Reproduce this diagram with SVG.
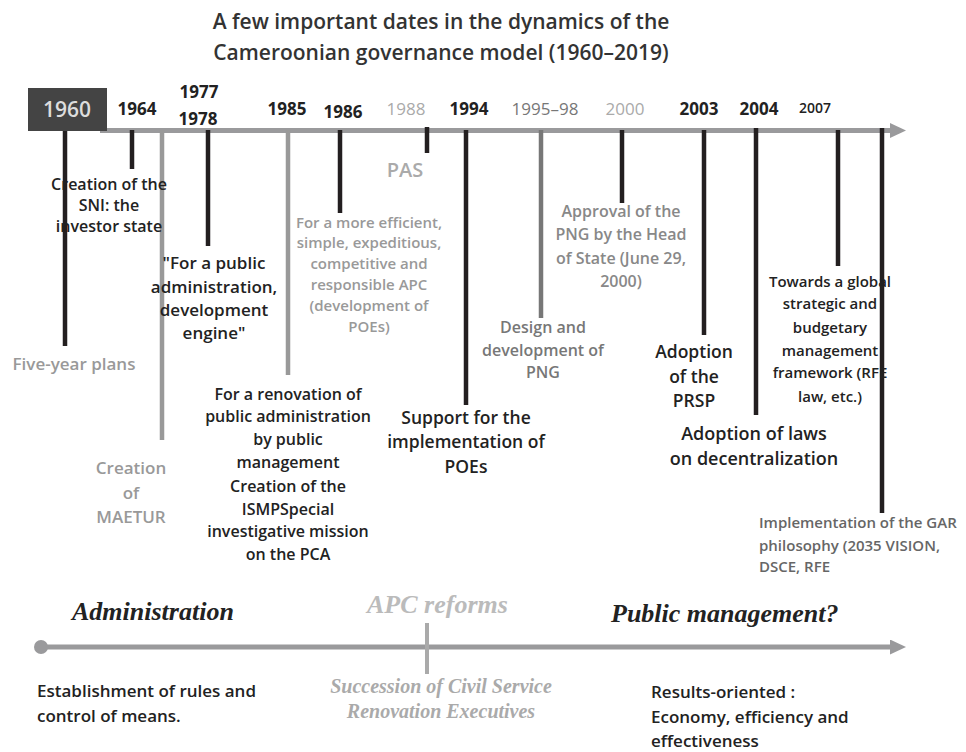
<svg xmlns="http://www.w3.org/2000/svg" width="966" height="752" viewBox="0 0 966 752">
<style>
  text { font-family: "Open Sans", "Noto Sans", "Liberation Sans", sans-serif; font-weight: 600; }
  .c { text-anchor: middle; }
  .title { font-size: 21px; fill: #333; }
  .yr { font-size: 17px; font-weight: 700; fill: #222; }
  .yrg { font-size: 17px; font-weight: 400; }
  .blk { fill: #222; }
  .gry { fill: #999; }
  .dg { fill: #777; }
  .serif { font-family: "Liberation Serif", "Times New Roman", serif; font-style: italic; font-weight: 700; }
  .stem { stroke: #231f20; stroke-width: 4.5; }
  .stemg { stroke: #999; stroke-width: 4.5; }
  .axis { stroke: #9a9a9c; stroke-width: 5; fill: none; }
</style>
<defs>
  <marker id="ah" markerUnits="userSpaceOnUse" markerWidth="16" markerHeight="16" refX="0" refY="7.5" orient="auto">
    <path d="M0,0 L16,7.5 L0,15 Z" fill="#9a9a9c"/>
  </marker>
</defs>

<g id="title">
  <text class="title c" x="441" y="29">A few important dates in the dynamics of the</text>
  <text class="title c" x="441" y="60">Cameroonian governance model (1960–2019)</text>
</g>

<g id="connectors">
  <line class="axis" x1="100" y1="130.5" x2="890" y2="130.5" marker-end="url(#ah)"/>
  <line class="stem" x1="65" y1="131" x2="65" y2="346"/>
  <line class="stem" x1="132" y1="130" x2="132" y2="169"/>
  <line class="stemg" x1="162" y1="130" x2="162" y2="440"/>
  <line class="stem" x1="208" y1="130" x2="208" y2="246"/>
  <line class="stemg" x1="288" y1="130" x2="288" y2="375"/>
  <line class="stem" x1="340" y1="130" x2="340" y2="213"/>
  <line class="stem" x1="427" y1="127" x2="427" y2="153"/>
  <line class="stem" x1="466" y1="130" x2="466" y2="405"/>
  <line x1="541" y1="130" x2="541" y2="318" stroke="#777" stroke-width="4.5"/>
  <line class="stem" x1="622" y1="130" x2="622" y2="203"/>
  <line class="stem" x1="704" y1="130" x2="704" y2="335"/>
  <line class="stem" x1="756" y1="128" x2="756" y2="415"/>
  <line class="stem" x1="838" y1="130" x2="838" y2="266"/>
  <line class="stem" x1="882" y1="128" x2="882" y2="513"/>
  <circle cx="41" cy="647" r="7" fill="#9a9a9c"/>
  <line class="axis" x1="41" y1="647" x2="890" y2="647" marker-end="url(#ah)"/>
  <line x1="427" y1="623" x2="427" y2="674" stroke="#aaa" stroke-width="4"/>
</g>

<g id="e1960">
  <rect x="28" y="88" width="79" height="43" fill="#444"/>
  <text class="c" x="67" y="117" font-size="21" font-weight="400" fill="#ddd">1960</text>
  <text class="c gry" x="74" y="370" font-size="17">Five-year plans</text>
</g>

<g id="e1964">
  <text class="yr c" x="137" y="115">1964</text>
  <text class="c blk" font-size="16"><tspan x="109" y="190">Creation of the</tspan><tspan x="109" y="211">SNI: the</tspan><tspan x="109" y="232">investor state</tspan></text>
</g>

<g id="e1977">
  <text class="yr c" x="199" y="98">1977</text>
  <text class="c gry" font-size="17"><tspan x="131" y="474">Creation</tspan><tspan x="131" y="499">of</tspan><tspan x="131" y="523">MAETUR</tspan></text>
</g>

<g id="e1978">
  <text class="yr c" x="198" y="125">1978</text>
  <text class="c blk" font-size="17"><tspan x="214" y="269">"For a public</tspan><tspan x="214" y="293">administration,</tspan><tspan x="214" y="316">development</tspan><tspan x="214" y="339">engine"</tspan></text>
</g>

<g id="e1985">
  <text class="yr c" x="287" y="115">1985</text>
  <text class="c blk" font-size="16"><tspan x="288" y="400">For a renovation of</tspan><tspan x="288" y="422">public administration</tspan><tspan x="288" y="445">by public</tspan><tspan x="288" y="468">management</tspan><tspan x="288" y="492">Creation of the</tspan><tspan x="288" y="515">ISMPSpecial</tspan><tspan x="288" y="537">investigative mission</tspan><tspan x="288" y="560">on the PCA</tspan></text>
</g>

<g id="e1986">
  <text class="yr c" x="343" y="118">1986</text>
  <text class="c gry" font-size="15"><tspan x="369" y="228">For a more efficient,</tspan><tspan x="369" y="248">simple, expeditious,</tspan><tspan x="369" y="269">competitive and</tspan><tspan x="369" y="290">responsible APC</tspan><tspan x="369" y="311">(development of</tspan><tspan x="369" y="332">POEs)</tspan></text>
</g>

<g id="e1988">
  <text class="yrg c" x="406" y="115" fill="#aaa">1988</text>
  <text class="c" x="405" y="177" font-size="20" font-weight="400" fill="#aaa">PAS</text>
</g>

<g id="e1994">
  <text class="yr c" x="469" y="115">1994</text>
  <text class="c blk" font-size="17.5"><tspan x="466" y="424">Support for the</tspan><tspan x="466" y="448">implementation of</tspan><tspan x="466" y="473">POEs</tspan></text>
</g>

<g id="e1995">
  <text class="yrg c" x="545" y="115" fill="#777">1995–98</text>
  <text class="c dg" font-size="16"><tspan x="543" y="333">Design and</tspan><tspan x="543" y="356">development of</tspan><tspan x="543" y="378">PNG</tspan></text>
</g>

<g id="e2000">
  <text class="yrg c" x="625" y="115" fill="#aaa">2000</text>
  <text class="c" font-size="16" fill="#888"><tspan x="621" y="217">Approval of the</tspan><tspan x="621" y="240">PNG by the Head</tspan><tspan x="621" y="264">of State (June 29,</tspan><tspan x="621" y="287">2000)</tspan></text>
</g>

<g id="e2003">
  <text class="yr c" x="699" y="115">2003</text>
  <text class="c blk" font-size="17.5"><tspan x="694" y="358">Adoption</tspan><tspan x="694" y="383">of the</tspan><tspan x="694" y="407">PRSP</tspan></text>
</g>

<g id="e2004">
  <text class="yr c" x="759" y="115">2004</text>
  <text class="c blk" font-size="18"><tspan x="754" y="440">Adoption of laws</tspan><tspan x="754" y="465">on decentralization</tspan></text>
</g>

<g id="e2007">
  <text class="c" x="815" y="113" font-size="14" font-weight="400" fill="#222">2007</text>
  <text class="c blk" font-size="15"><tspan x="830" y="287">Towards a global</tspan><tspan x="830" y="309">strategic and</tspan><tspan x="830" y="333">budgetary</tspan><tspan x="830" y="356">management</tspan><tspan x="830" y="378">framework (RFE</tspan><tspan x="830" y="402">law, etc.)</tspan></text>
</g>

<g id="e2019">
  <text font-size="15" fill="#666"><tspan x="759" y="528">Implementation of the GAR</tspan><tspan x="759" y="551">philosophy (2035 VISION,</tspan><tspan x="759" y="572">DSCE, RFE</tspan></text>
</g>

<g id="phase-administration">
  <text class="serif" x="72" y="620" font-size="26" fill="#222">Administration</text>
  <text font-size="17" font-weight="400" fill="#222"><tspan x="37" y="697">Establishment of rules and</tspan><tspan x="37" y="722">control of means.</tspan></text>
</g>

<g id="phase-apc">
  <text class="serif" x="367" y="613" font-size="26" fill="#bbb">APC reforms</text>
  <text class="serif c" font-size="20" fill="#aaa"><tspan x="441" y="693">Succession of Civil Service</tspan><tspan x="441" y="718">Renovation Executives</tspan></text>
</g>

<g id="phase-public-management">
  <text class="serif" x="611" y="622" font-size="26" fill="#222">Public management?</text>
  <text font-size="17" font-weight="400" fill="#222"><tspan x="651" y="698">Results-oriented :</tspan><tspan x="651" y="723">Economy, efficiency and</tspan><tspan x="651" y="747">effectiveness</tspan></text>
</g>
</svg>
